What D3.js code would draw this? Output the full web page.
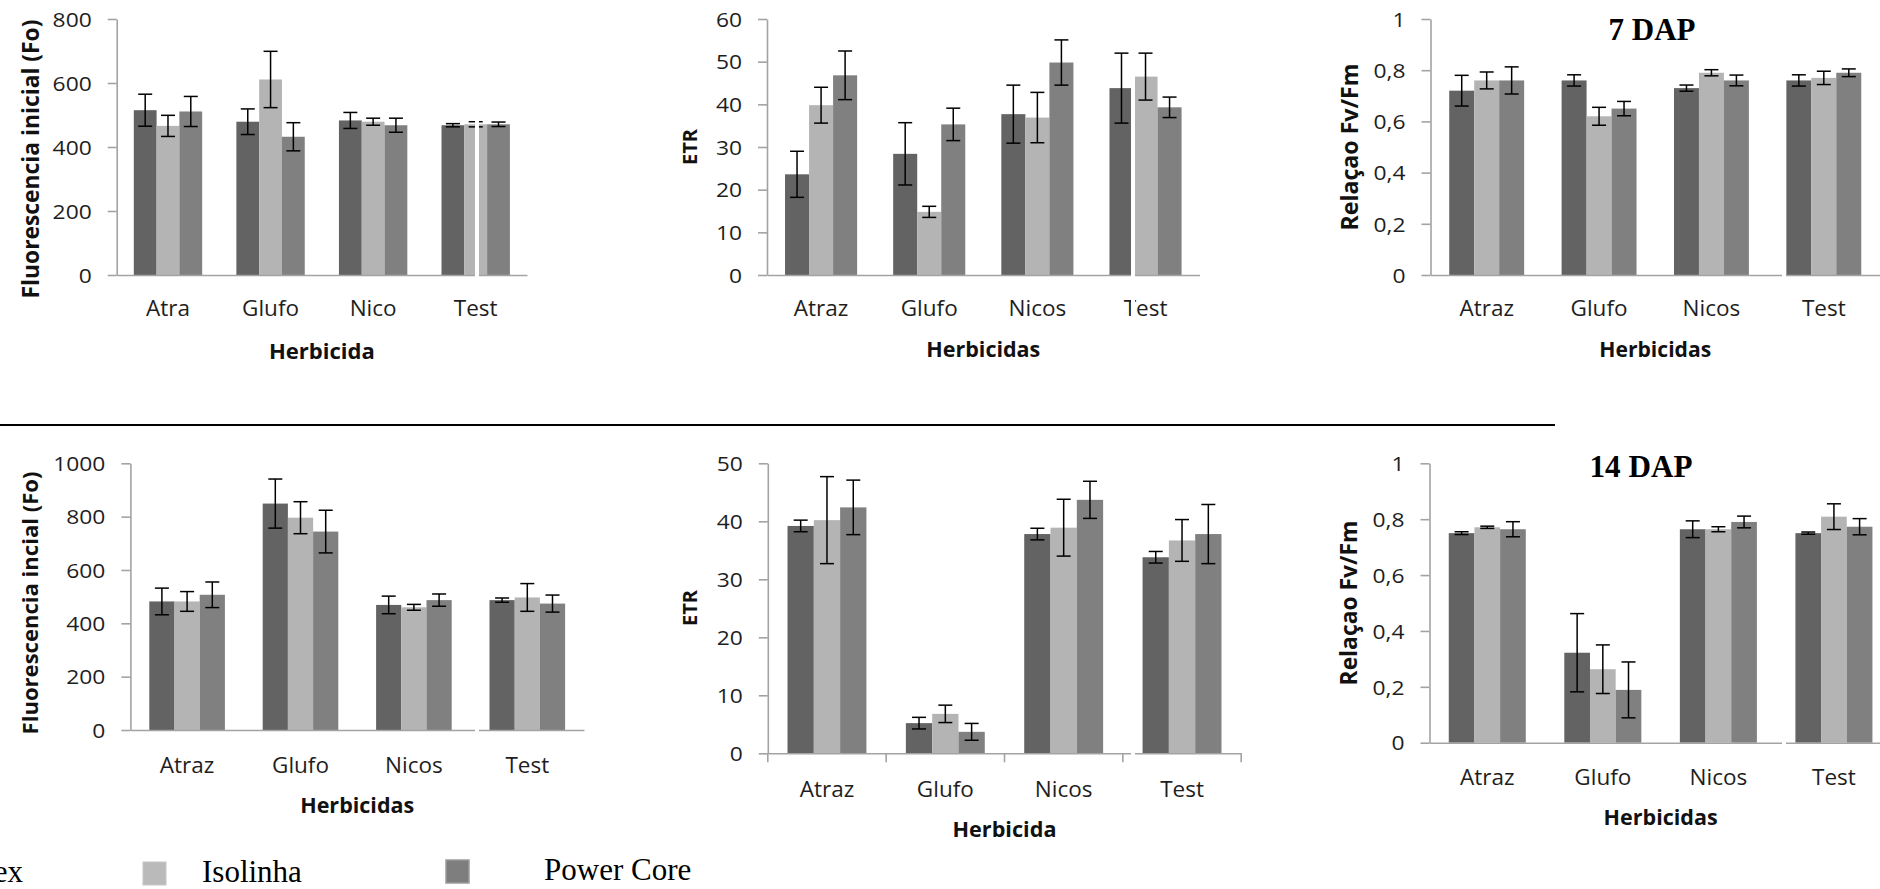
<!DOCTYPE html>
<html>
<head>
<meta charset="utf-8">
<script src="https://cdn.jsdelivr.net/npm/d3@7"></script>
<style>
  body { margin: 0; background: #fff; }
  svg { display: block; }
</style>
</head>
<body>
<div id="chart"></div>
<script>
// categories and series
const catsShort = ["Atra", "Glufo", "Nico", "Test"]
const catsLong = ["Atraz", "Glufo", "Nicos", "Test"]
const seriesNames = ["ex", "Isolinha", "Power Core"]   // first name is cut at the left edge
const seriesColors = ["#636363", "#b4b4b4", "#808080"]

// 7 DAP, one row per herbicide, [ex, Isolinha, Power Core]
const fo7 = [[515, 466, 511], [479, 611, 432], [483, 479, 468], [468, 471, 471]]
const fo7Err = [[50, 33, 47], [40, 88, 44], [25, 11, 22], [5, 8, 7]]
const etr7 = [[23.6, 39.8, 46.8], [28.4, 14.8, 35.3], [37.7, 36.9, 49.8], [43.8, 46.5, 39.3]]
const etr7Err = [[5.4, 4.2, 5.7], [7.3, 1.3, 3.8], [6.8, 5.9, 5.3], [8.2, 5.5, 2.4]]
const fvfm7 = [[0.72, 0.76, 0.76], [0.76, 0.62, 0.65], [0.73, 0.79, 0.76], [0.76, 0.77, 0.79]]
const fvfm7Err = [[0.06, 0.033, 0.053], [0.022, 0.035, 0.028], [0.012, 0.012, 0.021], [0.022, 0.026, 0.015]]

// 14 DAP
const fo14 = [[482, 482, 507], [849, 796, 744], [469, 460, 487], [487, 497, 474]]
const fo14Err = [[50, 37, 48], [92, 60, 80], [33, 11, 23], [8, 52, 32]]
const etr14 = [[39.2, 40.2, 42.4], [5.2, 6.8, 3.7], [37.8, 38.9, 43.7], [33.8, 36.7, 37.8]]
const etr14Err = [[1.0, 7.5, 4.7], [1.0, 1.5, 1.45], [1.0, 4.9, 3.2], [1.0, 3.6, 5.1]]
const fvfm14 = [[0.75, 0.771, 0.764], [0.322, 0.263, 0.189], [0.764, 0.764, 0.79], [0.75, 0.809, 0.773]]
const fvfm14Err = [[0.005, 0.004, 0.027], [0.14, 0.087, 0.1], [0.03, 0.009, 0.021], [0.004, 0.046, 0.029]]

// y axis ticks
const foTicks7 = [0, 200, 400, 600, 800]
const foTicks14 = [0, 200, 400, 600, 800, 1000]
const etrTicks7 = [0, 10, 20, 30, 40, 50, 60]
const etrTicks14 = [0, 10, 20, 30, 40, 50]
const fvfmTicks = [0, 0.2, 0.4, 0.6, 0.8, 1]

const W = 1880, H = 889
const SANS = "'Open Sans', 'Liberation Sans', sans-serif"
const SERIF = "'Liberation Serif', 'Times New Roman', serif"
const AXIS_COLOR = "#a3a3a3"
const TEXT_COLOR = "#1e1e1e"

const ptLocale = d3.formatLocale({decimal: ",", thousands: ".", grouping: [3], currency: ["", ""]})
const fmt = ptLocale.format(".1~f")

let svg = d3.select("#chart").append("svg").attr("width", W).attr("height", H)
svg.append("rect").attr("width", W).attr("height", H).attr("fill", "#fff")

// measure a string, used to match the widths seen in the picture
function textLen(str, size, weight, family) {
  let t = svg.append("text").style("font-family", family || SANS).style("font-size", size + "px")
    .style("font-weight", weight || "normal").text(str)
  let len = t.node().getComputedTextLength()
  t.remove()
  return len
}

// the picture is stretched sideways a bit: get horizontal scales from reference widths
const TICK_SIZE = 20, CAT_SIZE = 21
const TICK_SX = 32 / textLen("0,8", TICK_SIZE)
const CAT_SX = 57 / textLen("Glufo", CAT_SIZE)

const panels = [
  {cats: catsShort, vals: fo7, errs: fo7Err, ticks: foTicks7, x0: 116.7, x1: 527, yTop: 19, yBot: 275,
   yTitle: "Fluorescencia inicial (Fo)", yTitleX: 31, yTitleY: 159, yTitleLen: 279,
   xTitle: "Herbicida", xTitleY: 359, xTitleLen: 106, catY: 316},
  {cats: catsLong, vals: etr7, errs: etr7Err, ticks: etrTicks7, x0: 767, x1: 1199.6, yTop: 19, yBot: 275,
   yTitle: "ETR", yTitleX: 690, yTitleY: 147, yTitleLen: 36,
   xTitle: "Herbicidas", xTitleY: 357, xTitleLen: 114, catY: 316},
  {cats: catsLong, vals: fvfm7, errs: fvfm7Err, ticks: fvfmTicks, x0: 1430.5, x1: 1880, yTop: 19, yBot: 275,
   yTitle: "Relaçao Fv/Fm", yTitleX: 1350, yTitleY: 147, yTitleLen: 167,
   xTitle: "Herbicidas", xTitleY: 357, xTitleLen: 112, catY: 316},
  {cats: catsLong, vals: fo14, errs: fo14Err, ticks: foTicks14, x0: 130.4, x1: 584, yTop: 463.3, yBot: 730,
   yTitle: "Fluorescencia incial (Fo)", yTitleX: 30, yTitleY: 603, yTitleLen: 263,
   xTitle: "Herbicidas", xTitleY: 813, xTitleLen: 114, catY: 773},
  {cats: catsLong, vals: etr14, errs: etr14Err, ticks: etrTicks14, x0: 767.8, x1: 1241.2, yTop: 463.3, yBot: 753.3,
   yTitle: "ETR", yTitleX: 690, yTitleY: 608, yTitleLen: 36,
   xTitle: "Herbicida", xTitleY: 837, xTitleLen: 104, catY: 797, catTicks: true},
  {cats: catsLong, vals: fvfm14, errs: fvfm14Err, ticks: fvfmTicks, x0: 1429.5, x1: 1891.7, yTop: 463.3, yBot: 742.7,
   yTitle: "Relaçao Fv/Fm", yTitleX: 1349, yTitleY: 603, yTitleLen: 165,
   xTitle: "Herbicidas", xTitleY: 825, xTitleLen: 114, catY: 785}
]

function drawPanel(p) {
  let g = svg.append("g")
  let yMax = p.ticks[p.ticks.length - 1]
  let y = d3.scaleLinear([0, yMax], [p.yBot, p.yTop])
  let x = d3.scaleBand(p.cats, [p.x0, p.x1]).padding(0)
  // Excel style gap width 150%
  let xs = d3.scaleBand(d3.range(seriesNames.length), [0, x.bandwidth()]).paddingInner(0).paddingOuter(0.75)

  let groups = g.selectAll(".grp").data(p.vals).enter()
    .append("g")
    .attr("transform", (d, i) => `translate(${x(p.cats[i])},0)`)

  groups.selectAll("rect").data(d => d).enter()
    .append("rect")
    .attr("x", (d, j) => xs(j))
    .attr("width", xs.bandwidth())
    .attr("y", d => y(d))
    .attr("height", d => y(0) - y(d))
    .attr("fill", (d, j) => seriesColors[j])

  // error bars
  groups.each(function (row, i) {
    let eg = d3.select(this)
    row.forEach((v, j) => {
      let e = p.errs[i][j]
      let cx = xs(j) + xs.bandwidth() / 2
      eg.append("line").attr("x1", cx).attr("x2", cx).attr("y1", y(v + e)).attr("y2", y(v - e))
        .attr("stroke", "#000").attr("stroke-width", 1.5)
      ;[v + e, v - e].forEach(t => {
        eg.append("line").attr("x1", cx - 7).attr("x2", cx + 7).attr("y1", y(t)).attr("y2", y(t))
          .attr("stroke", "#000").attr("stroke-width", 1.5)
      })
    })
  })

  // y axis
  let yAxis = g.append("g").attr("transform", `translate(${p.x0},0)`)
    .call(d3.axisLeft(y).tickValues(p.ticks).tickFormat(fmt).tickSize(9).tickSizeOuter(0))
  yAxis.selectAll("path, line").attr("stroke", AXIS_COLOR).attr("stroke-width", 1.6)
  yAxis.selectAll("text")
    .attr("x", -25 / TICK_SX).attr("dy", "0.36em")
    .attr("transform", `scale(${TICK_SX},1)`)
    .style("font-family", SANS).style("font-size", TICK_SIZE + "px").attr("fill", TEXT_COLOR)

  // x axis line
  let xAxis = g.append("g").attr("transform", `translate(0,${p.yBot})`)
    .call(d3.axisBottom(x).tickSize(0).tickFormat(""))
  xAxis.select("path").attr("stroke", AXIS_COLOR).attr("stroke-width", 1.6)

  if (p.catTicks) {
    let bounds = p.cats.map(c => x(c)).concat([p.x1])
    g.selectAll(".ctick").data(bounds).enter().append("line")
      .attr("x1", d => d).attr("x2", d => d)
      .attr("y1", p.yBot).attr("y2", p.yBot + 9)
      .attr("stroke", AXIS_COLOR).attr("stroke-width", 1.6)
  }

  // category labels
  g.selectAll(".cat").data(p.cats).enter().append("text")
    .attr("transform", d => `translate(${x(d) + x.bandwidth() / 2},${p.catY}) scale(${CAT_SX},1)`)
    .attr("text-anchor", "middle")
    .style("font-family", SANS).style("font-size", CAT_SIZE + "px").attr("fill", TEXT_COLOR)
    .text(d => d)

  // axis titles, sized to the reference lengths
  let xSize = 21 * p.xTitleLen / textLen(p.xTitle, 21, "bold")
  g.append("text")
    .attr("transform", `translate(${(p.x0 + p.x1) / 2},${p.xTitleY})`)
    .attr("text-anchor", "middle")
    .style("font-family", SANS).style("font-size", xSize + "px").style("font-weight", "bold").attr("fill", "#111")
    .text(p.xTitle)

  let ySize = 22 * p.yTitleLen / textLen(p.yTitle, 22, "bold")
  g.append("text")
    .attr("transform", `translate(${p.yTitleX + ySize * 0.36},${p.yTitleY}) rotate(-90)`)
    .attr("text-anchor", "middle")
    .style("font-family", SANS).style("font-size", ySize + "px").style("font-weight", "bold").attr("fill", "#111")
    .text(p.yTitle)
}

panels.forEach(drawPanel)

// white seams of the pasted picture: [x, top, bottom]
const seams = [[475, 0, 288], [1131, 0, 330], [1782, 0, 330], [475, 440, 770], [1131, 440, 770], [1782, 440, 770]]
seams.forEach(s => {
  svg.append("rect").attr("x", s[0]).attr("y", s[1]).attr("width", 4).attr("height", s[2] - s[1]).attr("fill", "#fff")
})

// titles
const t7Size = 29 * 87 / textLen("7 DAP", 29, "bold", SERIF)
const t14Size = 31 * 103 / textLen("14 DAP", 31, "bold", SERIF)
svg.append("text").attr("x", 1652).attr("y", 40).attr("text-anchor", "middle")
  .style("font-family", SERIF).style("font-size", t7Size + "px").style("font-weight", "bold")
  .text("7 DAP")
svg.append("text").attr("x", 1641).attr("y", 477).attr("text-anchor", "middle")
  .style("font-family", SERIF).style("font-size", t14Size + "px").style("font-weight", "bold")
  .text("14 DAP")

// separator line between the two dates
svg.append("line").attr("x1", 0).attr("x2", 1555).attr("y1", 425).attr("y2", 425)
  .attr("stroke", "#000").attr("stroke-width", 2.2)

// legend (the first entry is cut at the left edge, as in the source)
svg.append("text").attr("x", 23).attr("y", 882).attr("text-anchor", "end")
  .style("font-family", SERIF).style("font-size", "31px").text(seriesNames[0])
svg.append("rect").attr("x", 143).attr("y", 862).attr("width", 23).attr("height", 23)
  .attr("fill", "#bababa").attr("stroke", "#c6c6c6").attr("stroke-width", 1)
svg.append("text").attr("x", 202).attr("y", 882)
  .style("font-family", SERIF).style("font-size", "31px").text(seriesNames[1])
svg.append("rect").attr("x", 446).attr("y", 860).attr("width", 23).attr("height", 23)
  .attr("fill", "#7e7e7e").attr("stroke", "#9c9c9c").attr("stroke-width", 1.5)
svg.append("text").attr("x", 544).attr("y", 880)
  .style("font-family", SERIF).style("font-size", "31px").text(seriesNames[2])
</script>
</body>
</html>
